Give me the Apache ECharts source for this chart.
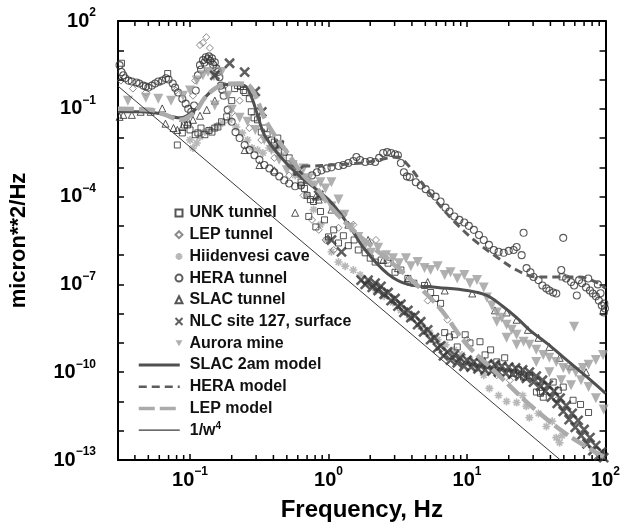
<!DOCTYPE html>
<html><head><meta charset="utf-8">
<script src="https://cdn.jsdelivr.net/npm/echarts@6/dist/echarts.min.js"></script>
<style>html,body{margin:0;padding:0;background:#fff}#c{width:623px;height:527px}</style>
</head><body><div id="c"></div>
<script>
// ---------- axis ranges & ticks ----------
const xMin = 0.0302, xMax = 100, yMin = 1e-13, yMax = 100;
const minorTickValues = [0.04,0.05,0.06,0.07,0.08,0.09,0.2,0.3,0.4,0.5,0.6,0.7,0.8,0.9,2,3,4,5,6,7,8,9,20,30,40,50,60,70,80,90];

// ---------- data: [frequency Hz, PSD micron^2/Hz] ----------
const unkTunnel = [[0.032,3.6],[0.069,1.6],[0.081,0.0058],[0.088,0.015],[0.091,0.028],[0.096,0.028],[0.100,0.019],[0.109,0.013],[0.114,0.015],[0.120,0.022],[0.128,0.013],[0.137,0.018],[0.144,0.016],[0.151,0.022],[0.159,0.024],[0.169,0.036],[0.184,0.053],[0.20,0.19],[0.21,0.49],[0.22,0.62],[0.231,0.58],[0.243,0.42],[0.25,0.36],[0.268,0.22],[0.277,0.079],[0.29,0.049],[0.307,0.042],[0.327,0.016],[0.344,0.022],[0.36,0.013],[0.387,0.0086],[0.406,0.0073],[0.43,0.01],[0.45,0.0058],[0.479,0.0033],[0.52,0.0021],[0.56,0.0012],[0.59,6.8e-4],[0.633,3.1e-4],[0.67,1.9e-4],[0.70,1.1e-4],[0.72,2.1e-5],[0.74,7.9e-5],[0.78,6.8e-5],[0.81,9.2e-6],[0.875,3.1e-5],[0.935,1.6e-5],[1.0,4.2e-6],[1.09,7.3e-6],[1.18,2.6e-6],[1.28,4.6e-6],[1.39,2.1e-6],[1.53,3.3e-6],[1.64,1.5e-6],[1.84,1.2e-6],[2.0,7.9e-7],[2.17,5.8e-7],[2.4,6.8e-7],[2.69,5.3e-7],[3.02,2.6e-7],[3.33,3.1e-7],[3.74,1.6e-7],[4.13,1.1e-7],[4.93,9.2e-8],[5.46,5.3e-8],[5.93,3.3e-8],[6.44,2.25e-8],[6.9,2.25e-9],[7.47,1.6e-9],[8.1,1.9e-9],[8.5,7.3e-10],[9.7,1.9e-9],[10.5,1.0e-9],[12.4,1.1e-9],[13.5,3.9e-10],[14.8,5.8e-10],[16.4,2.25e-10],[18.7,3.1e-10],[21.7,9.2e-11],[23.5,1.2e-10],[25.6,6.8e-11],[28.2,7.9e-11],[31.7,2.1e-11],[33.9,1.9e-11],[35.5,1.4e-11],[41.9,4.6e-11],[45.6,2.4e-11],[49.5,3.1e-11],[48.6,1.8e-7],[58.3,1.1e-11],[66,7.9e-12],[75.4,4.2e-12]];

const lepTunnel = [[0.0317,0.92],[0.0387,0.49],[0.048,0.36],[0.061,0.79],[0.079,0.42],[0.105,0.28],[0.109,0.92],[0.118,15],[0.124,18],[0.131,28],[0.139,12],[0.144,3.9],[0.159,2.1],[0.178,0.62],[0.20,0.073],[0.228,0.19],[0.268,0.022],[0.327,0.0086],[0.406,0.0021],[0.52,5.3e-4],[0.66,1.1e-4],[0.76,1.6e-5],[0.85,7.3e-6],[0.95,3.3e-6],[1.09,1.5e-6],[1.18,8.6e-6],[1.28,2.4e-5],[1.51,1.1e-5],[2.0,2.8e-6],[2.2,3.3e-6],[2.69,6.8e-7],[3.74,1.2e-7],[5.2,2.8e-8],[7.22,6.2e-9],[10,1.3e-9],[13.2,1.5e-10],[16.4,7.9e-11],[20.4,5.3e-11],[44,1.1e-11]];

const hiidenvesiCave = [[0.100,0.0086],[0.105,0.0046],[0.112,0.0068],[0.118,0.011],[0.128,0.016],[0.139,0.019],[0.156,0.026],[0.172,0.033],[0.193,0.042],[0.216,0.024],[0.238,0.015],[0.26,0.0086],[0.28,0.0046],[0.307,0.0039],[0.336,0.0031],[0.373,0.0046],[0.418,0.0039],[0.46,0.0026],[0.52,0.0012],[0.574,5.3e-4],[0.633,2.4e-4],[0.70,1.1e-4],[0.78,3.6e-5],[0.875,1.1e-5],[0.97,3.3e-6],[1.05,1.3e-6],[1.18,5.8e-7],[1.32,4.2e-7],[1.51,3.1e-7],[1.69,2.1e-7],[1.93,1.1e-7],[2.2,6.2e-8],[2.52,3.9e-8],[2.92,2.4e-8],[3.33,1.3e-8],[3.86,7.3e-9],[4.63,3.6e-9],[5.37,2.25e-9],[6.13,1.3e-9],[6.99,8.6e-10],[8.1,5.8e-10],[9.2,3.9e-10],[10.5,2.6e-10],[11.8,1.4e-10],[13.2,7.9e-11],[14.5,2.8e-11],[16.9,1.6e-11],[19.3,1.0e-11],[22.8,9.2e-12],[25.2,1.6e-11],[26.8,6.8e-12],[28.2,2.8e-12],[32.8,3.9e-12],[37.4,1.4e-12],[41.2,2.1e-12],[44.1,5.8e-13],[46.6,3.9e-13],[48.6,6.8e-13]];

const heraTunnel = [[0.031,3.1],[0.032,1.8],[0.033,1.4],[0.034,1.1],[0.036,0.92],[0.038,0.86],[0.041,0.79],[0.043,0.73],[0.046,0.62],[0.048,0.58],[0.050,0.53],[0.053,0.62],[0.056,0.73],[0.059,0.86],[0.063,0.92],[0.067,1.1],[0.070,1.0],[0.075,0.73],[0.078,0.53],[0.082,0.36],[0.088,0.22],[0.093,0.15],[0.097,0.10],[0.102,0.079],[0.107,0.13],[0.110,0.42],[0.114,1.4],[0.118,3.1],[0.12,2.2],[0.124,4.6],[0.127,3.8],[0.130,5.8],[0.134,5.0],[0.137,6.2],[0.14,4.4],[0.144,5.3],[0.147,3.2],[0.151,3.9],[0.155,2.4],[0.159,1.8],[0.163,1.2],[0.167,0.62],[0.171,0.45],[0.175,0.28],[0.187,0.092],[0.20,0.036],[0.213,0.016],[0.228,0.010],[0.248,0.0058],[0.269,0.0039],[0.292,0.0026],[0.317,0.0018],[0.344,0.0012],[0.374,9.2e-4],[0.406,6.8e-4],[0.441,4.9e-4],[0.479,3.6e-4],[0.52,2.8e-4],[0.574,2.25e-4],[0.633,2.4e-4],[0.699,3.6e-4],[0.76,5.3e-4],[0.824,6.8e-4],[0.89,7.9e-4],[0.97,9.2e-4],[1.05,1.0e-3],[1.18,1.11e-3],[1.28,1.2e-3],[1.39,1.4e-3],[1.51,1.64e-3],[1.59,2.25e-3],[1.69,1.78e-3],[1.84,1.52e-3],[2.0,1.64e-3],[2.17,1.52e-3],[2.32,2.1e-3],[2.48,3.1e-3],[2.65,3.3e-3],[2.83,3.1e-3],[3.02,2.8e-3],[3.17,2.6e-3],[3.33,1.4e-3],[3.5,6.8e-4],[3.68,4.9e-4],[3.86,4.6e-4],[4.27,3.1e-4],[4.63,2.4e-4],[5.03,1.8e-4],[5.46,1.3e-4],[5.93,1.0e-4],[6.44,6.8e-5],[6.99,4.2e-5],[7.47,3.1e-5],[8.1,2.1e-5],[8.8,1.6e-5],[9.56,1.3e-5],[10.3,1.0e-5],[11.2,7.3e-6],[12.2,4.9e-6],[13.2,3.3e-6],[14.4,2.25e-6],[15.6,1.5e-6],[16.9,1.3e-6],[18.4,1.2e-6],[20,1.4e-6],[21.7,1.5e-6],[22.8,1.9e-6],[24.8,1.0e-6],[25.6,5.8e-6],[26.9,3.6e-7],[28.7,2.6e-7],[30.2,1.8e-7],[32.8,1.4e-7],[35,9.2e-8],[37.4,7.3e-8],[39.3,6.2e-8],[41.9,5.3e-8],[44.1,4.9e-8],[49.5,3.9e-6],[47.9,3.1e-7],[52,1.6e-7],[56.4,1.2e-7],[59.3,9.2e-8],[62,4.2e-8],[64.4,1.4e-7],[67.6,1.1e-7],[72.3,7.9e-8],[75,1.6e-7],[77.2,6.2e-8],[81,4.9e-8],[85.2,3.9e-8],[88,1.0e-7],[89.5,2.8e-8],[92,5e-8],[94,1.9e-8],[97.2,1.1e-8],[98,2.2e-8],[99,1.5e-8]];

const slacTunnel = [[0.031,0.053],[0.033,0.062],[0.038,0.062],[0.044,0.079],[0.052,0.079],[0.063,0.103],[0.0665,0.031],[0.076,0.022],[0.081,0.019],[0.088,0.024],[0.097,0.036],[0.105,0.042],[0.118,0.058],[0.132,0.092],[0.151,0.19],[0.248,0.0039],[0.317,0.0012],[0.406,7.9e-4],[0.574,2.8e-5],[0.81,1.0e-4],[0.85,7.9e-5],[1.05,3.6e-5],[1.39,1.1e-5],[1.93,3.3e-6],[2.48,6.8e-7],[3.17,3.6e-7],[3.74,1.6e-7],[5.2,1.2e-7],[6.9,6.2e-8],[10.9,4.9e-8],[15.9,1.3e-8],[19.3,1.1e-8],[22.8,6.2e-9],[27.5,2.8e-9],[32.8,1.5e-9],[39.3,7.3e-10],[46.6,3.1e-10],[56.4,1.6e-10],[72.3,1.0e-10],[96,1.8e-13]];

const nlcSite127 = [[0.151,1.4],[0.193,3.6],[0.248,1.8],[0.296,0.39],[0.33,0.079],[0.44,0.0058],[0.61,7.9e-4],[0.85,1.1e-4],[1.05,3.3e-6],[1.24,1.3e-6],[1.72,1.4e-7],[1.84,1.0e-7],[1.93,1.4e-7],[2.07,7.9e-8],[2.17,1.1e-7],[2.28,6.2e-8],[2.39,8.6e-8],[2.52,4.6e-8],[2.69,5.3e-8],[2.83,2.8e-8],[3.02,3.3e-8],[3.17,1.8e-8],[3.33,2.1e-8],[3.5,1.1e-8],[3.74,1.3e-8],[3.93,7.3e-9],[4.2,8.6e-9],[4.4,4.2e-9],[4.63,5.3e-9],[4.86,2.4e-9],[5.2,2.8e-9],[5.46,1.3e-9],[5.82,1.5e-9],[6.13,6.8e-10],[6.44,7.9e-10],[6.76,3.6e-10],[7.22,4.9e-10],[7.6,2.6e-10],[8.1,3.9e-10],[8.5,2.1e-10],[8.9,3.1e-10],[9.5,1.6e-10],[10.0,2.6e-10],[10.7,1.5e-10],[11.2,2.25e-10],[12,1.3e-10],[12.6,2.1e-10],[13.5,1.2e-10],[14.1,1.9e-10],[15.1,1.1e-10],[15.9,1.8e-10],[16.9,1.0e-10],[17.8,1.6e-10],[19,9.2e-11],[20,1.5e-10],[21.4,8.6e-11],[22.4,1.4e-10],[24,7.3e-11],[25.2,1.2e-10],[26.8,6.2e-11],[28.2,1.0e-10],[30.2,4.6e-11],[31.6,7.3e-11],[33.9,3.3e-11],[35,5.3e-11],[36.8,2.25e-11],[38.6,3.6e-11],[40.6,1.4e-11],[42.5,2.25e-11],[44.8,8.6e-12],[47,1.3e-11],[49.5,4.6e-12],[52,7.3e-12],[54.6,2.4e-12],[57.4,3.9e-12],[60.4,1.3e-12],[63.4,2.25e-12],[66.6,6.8e-13],[70,1.1e-12],[73.5,3.6e-13],[77.2,5.8e-13],[81,2.1e-13],[85,3.1e-13],[89.5,1.4e-13],[94,1.9e-13],[97,1.2e-13]];

const auroraMine = [[0.0356,0.19],[0.048,0.24],[0.059,0.22],[0.073,0.19],[0.089,0.28],[0.1,0.42],[0.112,0.92],[0.124,1.4],[0.135,1.8],[0.149,1.3],[0.169,1.8],[0.151,0.13],[0.187,0.28],[0.20,0.092],[0.228,0.049],[0.26,0.036],[0.296,0.019],[0.344,0.0086],[0.387,0.0039],[0.44,0.0018],[0.50,7.9e-4],[0.55,0.0012],[0.61,5.3e-4],[0.66,9.2e-4],[0.72,4.2e-4],[0.79,2.4e-4],[0.875,3.1e-4],[0.95,1.9e-4],[1.05,3.1e-4],[1.05,4.6e-5],[1.18,7.9e-5],[1.3,2.4e-5],[1.44,8.6e-6],[1.64,4.2e-6],[1.84,2.25e-6],[2.03,1.2e-6],[2.28,1.8e-6],[2.6,1.0e-6],[2.92,7.9e-7],[3.23,5.3e-7],[3.62,7.9e-7],[3.93,4.2e-7],[4.4,5.8e-7],[4.93,3.6e-7],[5.46,3.1e-7],[6.13,4.2e-7],[6.9,2.1e-7],[7.6,2.6e-7],[8.5,1.6e-7],[9.56,2.1e-7],[10.5,1.1e-7],[11.8,1.4e-7],[13.2,7.9e-8],[13.9,3.6e-8],[15.1,1.9e-8],[16.4,1.1e-8],[16.4,5.3e-9],[17.8,7.3e-9],[19.3,4.2e-9],[19.3,1.5e-9],[21,2.8e-9],[22.8,1.9e-9],[22.8,8.6e-10],[25.6,1.1e-9],[28.2,8.6e-10],[31.6,5.8e-10],[31.6,2.25e-10],[35.5,3.9e-10],[39.3,3.1e-10],[39.3,1.0e-10],[44.1,2.25e-10],[47.9,5.3e-11],[49.5,1.4e-10],[54.6,1.2e-10],[56.4,3.6e-11],[59.3,3.6e-9],[61,1.0e-10],[66.6,5.3e-11],[68.6,1.4e-10],[75.4,1.8e-10],[75.4,3.1e-11],[85.2,2.6e-10],[85.2,1.3e-11],[96,3.9e-10],[97,5.3e-12]];

const slac2amModel = [[0.0302,0.079],[0.0441,0.079],[0.061,0.068],[0.0848,0.049],[0.1086,0.092],[0.128,0.24],[0.151,0.49],[0.187,0.68],[0.248,0.62],[0.277,0.26],[0.307,0.062],[0.344,0.013],[0.44,0.0026],[0.61,5.3e-4],[1.0,7.9e-5],[1.39,1.1e-5],[1.84,1.5e-6],[2.69,2.25e-7],[3.74,1.0e-7],[6.13,7.9e-8],[10,6.2e-8],[13.9,4.2e-8],[17.8,1.9e-8],[22.8,7.3e-9],[28.2,2.8e-9],[37.4,1.0e-9],[49.5,3.3e-10],[72.3,7.3e-11],[100,1.9e-11]];

const heraModel = [[0.52,1.1e-3],[0.72,1.1e-3],[1.0,1.2e-3],[1.39,1.3e-3],[1.93,1.5e-3],[2.69,2.1e-3],[3.17,2.25e-3],[3.74,1.2e-3],[4.4,4.6e-4],[5.2,1.6e-4],[6.44,4.6e-5],[8.1,1.4e-5],[11.2,3.3e-6],[16.4,8.6e-7],[22.8,3.1e-7],[31.6,1.8e-7],[44.1,1.8e-7],[64.4,1.8e-7],[85.2,1.2e-7],[100,7.3e-8]];

const lepModel = [[0.0302,0.10],[0.052,0.092],[0.0665,0.062],[0.0848,0.042],[0.1086,0.079],[0.128,0.24],[0.151,0.49],[0.178,0.68],[0.228,0.73],[0.268,0.62],[0.307,0.19],[0.344,0.049],[0.406,0.013],[0.52,0.0026],[0.66,5.3e-4],[0.85,1.6e-4],[1.0,5.3e-5],[1.64,4.9e-6],[3.17,3.6e-7],[6.13,1.9e-8],[10,8.6e-10],[16.4,9.2e-11],[28.2,7.9e-12],[49.5,9.2e-13],[85.2,1.8e-13],[100,1.2e-13]];

const invW4 = [[0.0302,0.595],[47.2,1e-13]];

const scatterNames = ['UNK tunnel','LEP tunnel','Hiidenvesi cave','HERA tunnel','SLAC tunnel','NLC site 127, surface','Aurora mine'];
const lineNames = ['SLAC 2am model','HERA model','LEP model','1/w4'];

// ---------- chart ----------
const FONT = 'Liberation Sans, Arial, Helvetica, sans-serif';
const STAR = 'path://M5,0L5,10M0,5L10,5M1.5,1.5L8.5,8.5M8.5,1.5L1.5,8.5';
const XMARK = 'path://M0,0L10,10M10,0L0,10';
const DOWN_TRI = 'path://M0,0L10,0L5,8.7Z';
const legendIcons = {'UNK tunnel': 'rect', 'LEP tunnel': 'diamond', 'Hiidenvesi cave': STAR, 'HERA tunnel': 'circle',
  'SLAC tunnel': 'triangle', 'NLC site 127, surface': XMARK, 'Aurora mine': DOWN_TRI};
const legendLineWidth = {'SLAC 2am model': 3, 'HERA model': 2.5, 'LEP model': 3.5, '1/w4': 1.2};

function expOf(v){ const e = Math.log10(v); const r = Math.round(e); return Math.abs(e - r) < 1e-6 ? r : null; }
function powLabel(r){ return '{b|10}{s|' + (r < 0 ? '\u2212' + (-r) : String(r)) + '}'; }
const labelRich = {
  b: {fontSize: 20, fontWeight: 'bold', fontFamily: FONT, color: '#000', lineHeight: 28},
  s: {fontSize: 12, fontWeight: 'bold', fontFamily: FONT, color: '#000', verticalAlign: 'top', lineHeight: 14}
};
const tickStyle = {color: '#000', width: 1.5};
const lineAxis = {show: true, onZero: false, lineStyle: {color: '#000', width: 2}};

function scatter(name, data, opt){
  return Object.assign({type: 'scatter', name, data, xAxisIndex: 0, yAxisIndex: 0, z: 2,
    emphasis: {disabled: true}, silent: true}, opt);
}
function line(name, data, opt){
  return Object.assign({type: 'line', name, data, xAxisIndex: 0, yAxisIndex: 0, z: 3,
    symbol: 'none', showSymbol: false, emphasis: {disabled: true}, silent: true}, opt);
}

const chart = echarts.init(document.getElementById('c'), null, {renderer: 'canvas'});
chart.setOption({
  animation: false,
  backgroundColor: '#fff',
  grid: {left: 117, right: 13, top: 21, bottom: 67, containLabel: false},
  xAxis: [
    {type: 'log', logBase: 10, min: xMin, max: xMax, splitNumber: 4, position: 'bottom',
     name: 'Frequency, Hz', nameLocation: 'middle', nameGap: 38,
     nameTextStyle: {fontSize: 24, fontWeight: 'bold', fontFamily: FONT, color: '#000'},
     axisLine: lineAxis, axisTick: {inside: true, length: 6, lineStyle: tickStyle},
     axisLabel: {margin: 6, formatter: v => { const r = expOf(v); return r === null ? '' : powLabel(r); }, rich: labelRich},
     splitLine: {show: false}},
    {type: 'log', logBase: 10, min: xMin, max: xMax, splitNumber: 4, position: 'top',
     axisLine: lineAxis, axisTick: {inside: true, length: 6, lineStyle: tickStyle},
     axisLabel: {show: false}, splitLine: {show: false}}
  ],
  yAxis: [
    {type: 'log', logBase: 10, min: yMin, max: yMax, interval: 1, position: 'left',
     name: 'micron**2/Hz', nameLocation: 'middle', nameGap: 88,
     nameTextStyle: {fontSize: 22, fontWeight: 'bold', fontFamily: FONT, color: '#000'},
     axisLine: lineAxis, axisTick: {inside: true, length: 6, lineStyle: tickStyle},
     axisLabel: {margin: 22, formatter: v => { const r = expOf(v); return (r === null || (r - 2) % 3 !== 0) ? '' : powLabel(r); }, rich: labelRich},
     splitLine: {show: false}},
    {type: 'log', logBase: 10, min: yMin, max: yMax, interval: 1, position: 'right',
     axisLine: lineAxis, axisTick: {inside: true, length: 6, lineStyle: tickStyle},
     axisLabel: {show: false}, splitLine: {show: false}}
  ],
  legend: [
    {data: scatterNames.map(n => ({name: n, icon: legendIcons[n]})), orient: 'vertical', left: 173, top: 204,
     padding: 0, itemWidth: 7, itemHeight: 7, itemGap: 3.7, selectedMode: false,
     textStyle: {fontSize: 16, fontWeight: 'bold', fontFamily: FONT, color: '#111', lineHeight: 18, padding: [0,0,0,2]}},
    {data: lineNames.map(n => ({name: n, lineStyle: {width: legendLineWidth[n]}})), orient: 'vertical', left: 137, top: 356, padding: 0,
     itemWidth: 41, itemHeight: 14, itemGap: 3.7, selectedMode: false,
     itemStyle: {opacity: 0},
     formatter: n => n === '1/w4' ? '1/w{s|4}' : n,
     textStyle: {fontSize: 16, fontWeight: 'bold', fontFamily: FONT, color: '#111', lineHeight: 18, padding: [0,0,0,5],
       rich: {s: {fontSize: 10, fontWeight: 'bold', fontFamily: FONT, color: '#111', verticalAlign: 'top', lineHeight: 10}}}}
  ],
  series: [
    scatter('Hiidenvesi cave', hiidenvesiCave, {symbol: STAR, symbolSize: 8, itemStyle: {color: 'none', borderColor: '#a6a6a6', borderWidth: 1.6}}),
    scatter('LEP tunnel', lepTunnel, {symbol: 'diamond', symbolSize: 7, itemStyle: {color: 'rgba(0,0,0,0)', borderColor: '#6e6e6e', borderWidth: 1}}),
    scatter('UNK tunnel', unkTunnel, {symbol: 'rect', symbolSize: 6, itemStyle: {color: 'rgba(0,0,0,0)', borderColor: '#2a2a2a', borderWidth: 1}}),
    scatter('HERA tunnel', heraTunnel, {symbol: 'circle', symbolSize: 7, itemStyle: {color: 'rgba(0,0,0,0)', borderColor: '#333', borderWidth: 1.1}}),
    scatter('SLAC tunnel', slacTunnel, {symbol: 'triangle', symbolSize: 7, itemStyle: {color: 'rgba(0,0,0,0)', borderColor: '#2a2a2a', borderWidth: 1}}),
    scatter('Aurora mine', auroraMine, {symbol: 'triangle', symbolRotate: 180, symbolSize: 10, itemStyle: {color: '#9c9c9c'}}),
    scatter('NLC site 127, surface', nlcSite127, {symbol: XMARK, symbolSize: 9, itemStyle: {color: 'none', borderColor: '#363636', borderWidth: 2.6}}),
    line('SLAC 2am model', slac2amModel, {smooth: 0.35, lineStyle: {color: '#505050', width: 3}, itemStyle: {color: '#505050'}}),
    line('HERA model', heraModel, {smooth: 0.35, lineStyle: {color: '#5c5c5c', width: 3, type: [8, 5]}, itemStyle: {color: '#5c5c5c'}}),
    line('LEP model', lepModel, {smooth: 0.35, lineStyle: {color: '#ababab', width: 4.5, type: [16, 5]}, itemStyle: {color: '#ababab'}}),
    line('1/w4', invW4, {lineStyle: {color: '#3a3a3a', width: 1}, itemStyle: {color: '#3a3a3a'}}),
    {type: 'custom', xAxisIndex: 0, yAxisIndex: 0, silent: true, clip: false, z: 10,
     data: minorTickValues.map(v => [v, 1]),
     renderItem: (params, api) => {
       const x = api.coord([api.value(0), 1])[0];
       const cs = params.coordSys;
       const yb = cs.y + cs.height, yt = cs.y;
       return {type: 'group', children: [
         {type: 'line', shape: {x1: x, y1: yb, x2: x, y2: yb - 5}, style: {stroke: '#000', lineWidth: 1.5}},
         {type: 'line', shape: {x1: x, y1: yt, x2: x, y2: yt + 5}, style: {stroke: '#000', lineWidth: 1.5}}
       ]};
     }}
  ]
});
</script>
</body></html>
